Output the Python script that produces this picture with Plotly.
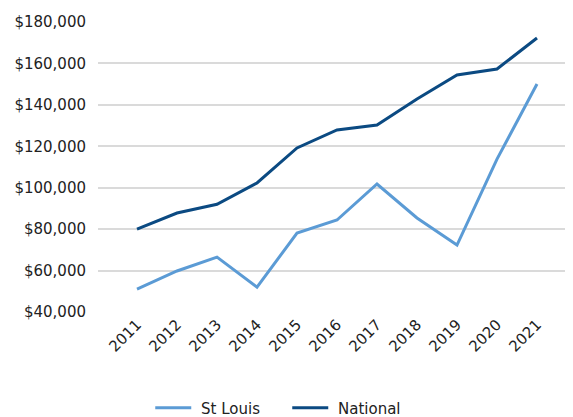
import plotly.graph_objects as go

years = ["2011", "2012", "2013", "2014", "2015", "2016", "2017", "2018", "2019", "2020", "2021"]
st_louis = [51100, 59800, 66500, 52000, 78100, 84400, 101800, 85400, 72300, 113800, 150100]
national = [80000, 87800, 92000, 102300, 119200, 127900, 130300, 142800, 154400, 157300, 172300]
y_ticks = [40000, 60000, 80000, 100000, 120000, 140000, 160000, 180000]
y_tick_labels = ["$40,000", "$60,000", "$80,000", "$100,000", "$120,000", "$140,000", "$160,000", "$180,000"]

FONT = "'DejaVu Sans', sans-serif"

fig = go.Figure()
fig.add_trace(go.Scatter(x=years, y=st_louis, name=" St Louis", mode="lines",
                         line=dict(color="#5B9BD5", width=3)))
fig.add_trace(go.Scatter(x=years, y=national, name=" National", mode="lines",
                         line=dict(color="#0B4A82", width=3)))

fig.update_layout(
    width=565, height=409,
    margin=dict(l=90, r=0, t=14, b=105, autoexpand=False),
    paper_bgcolor="white", plot_bgcolor="white",
    font=dict(family=FONT, size=15, color="#222222"),
    showlegend=True,
    legend=dict(orientation="h", x=0.11, xanchor="left", yref="container",
                y=0.022, yanchor="middle", entrywidth=86, entrywidthmode="pixels",
                font=dict(size=15), itemwidth=36, traceorder="normal"),
    xaxis=dict(type="category", range=[-0.975, 10.9], showgrid=False, showline=False,
               ticks="", tickangle=-45, automargin=False),
    yaxis=dict(range=[40000, 180000], tickvals=y_ticks, ticktext=y_tick_labels,
               showgrid=True, gridcolor="#DADADA", gridwidth=1.5, zeroline=False,
               showline=False, ticks="", ticklabelstandoff=11, automargin=False),
)

fig.write_html("out.html")
